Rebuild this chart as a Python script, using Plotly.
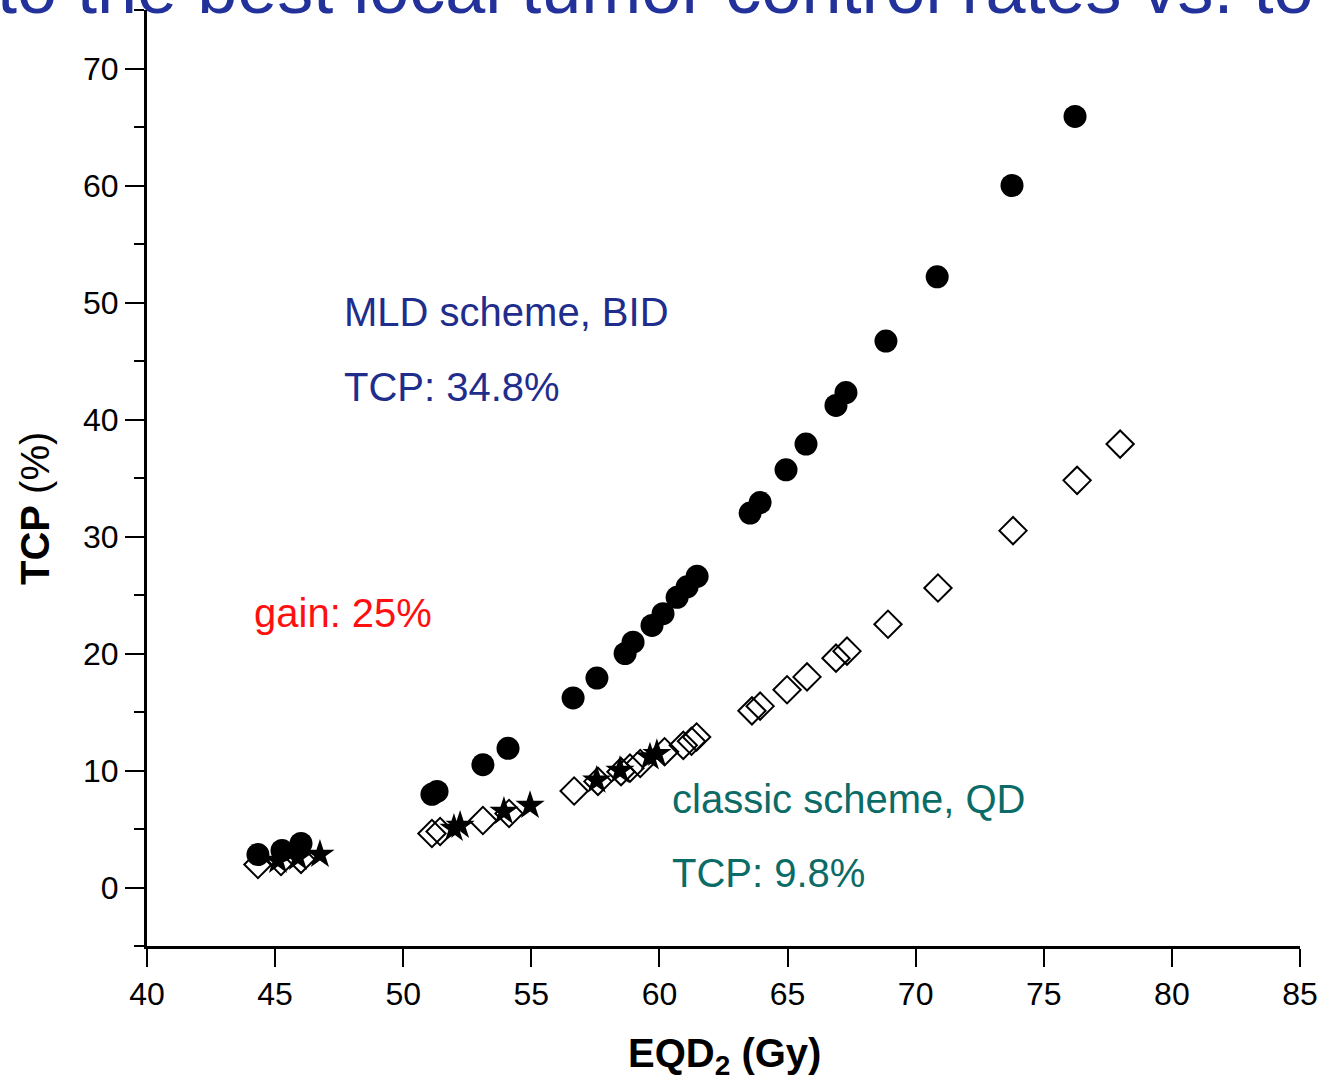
import plotly.graph_objects as go

# ---- data ----
mld_x = [44.33, 45.27, 46.01, 51.12, 51.32, 53.11, 54.09, 56.63, 57.56, 58.66, 58.97,
         59.71, 60.14, 60.69, 61.08, 61.47, 63.54, 63.93, 64.94, 65.72, 66.89, 67.28,
         68.84, 70.84, 73.76, 76.22]
mld_y = [2.82, 3.17, 3.77, 7.96, 8.21, 10.5, 11.9, 16.2, 17.9, 20.0, 20.97,
         22.4, 23.4, 24.8, 25.7, 26.6, 32.0, 32.9, 35.7, 37.9, 41.2, 42.3,
         46.7, 52.2, 60.0, 65.9]

classic_x = [44.33, 45.23, 46.01, 51.12, 51.44, 53.11, 54.13, 56.67, 57.60, 58.50,
             58.85, 59.25, 60.20, 60.93, 61.25, 61.45, 63.61, 63.93, 64.98, 65.76,
             66.89, 67.32, 68.92, 70.87, 73.80, 76.30, 77.98]
classic_y = [1.97, 2.22, 2.40, 4.62, 4.79, 5.73, 6.33, 8.25, 9.07, 9.90,
             10.2, 10.6, 11.6, 12.15, 12.5, 12.86, 15.1, 15.5, 16.9, 18.0,
             19.6, 20.2, 22.5, 25.6, 30.5, 34.8, 37.9]

star_x = [45.11, 45.89, 46.75, 51.98, 52.22, 53.93, 54.95, 57.55, 58.46, 59.63, 59.90]
star_y = [2.31, 2.57, 2.82, 5.05, 5.30, 6.50, 7.00, 9.16, 10.0, 11.15, 11.44]

x_ticks = [40, 45, 50, 55, 60, 65, 70, 75, 80, 85]
y_ticks = [0, 10, 20, 30, 40, 50, 60, 70]

header_text = "to the best local tumor control rates vs. to"
x_title = "<b>EQD<sub>2</sub> (Gy)</b>"
y_title = "<b>TCP</b> (%)"
labels = [
    ("MLD scheme, BID", 47.6, 49.2, "#1f2d8c"),
    ("TCP: 34.8%", 47.6, 42.8, "#1f2d8c"),
    ("gain: 25%", 44.1, 23.5, "#ff1010"),
    ("classic scheme, QD", 60.4, 7.6, "#0b6b66"),
    ("TCP: 9.8%", 60.4, 1.2, "#0b6b66"),
]

regular = "Liberation Sans, Arial, sans-serif"

fig = go.Figure()
fig.add_trace(go.Scatter(
    x=classic_x, y=classic_y, mode="markers", name="classic",
    marker=dict(symbol="diamond-open", size=21, color="black", line=dict(width=2, color="black")),
    cliponaxis=False))
fig.add_trace(go.Scatter(
    x=star_x, y=star_y, mode="markers", name="star",
    marker=dict(symbol="star", size=22, color="black", line=dict(width=0)),
    cliponaxis=False))
fig.add_trace(go.Scatter(
    x=mld_x, y=mld_y, mode="markers", name="MLD",
    marker=dict(symbol="circle", size=23, color="black", line=dict(width=0)),
    cliponaxis=False))

for txt, xx, yy, col in labels:
    fig.add_annotation(x=xx, y=yy, xref="x", yref="y", text=txt, showarrow=False,
                       xanchor="left", yanchor="middle",
                       font=dict(family=regular, size=40, color=col))

# header text cut by the top edge of the picture
fig.add_annotation(x=-0.132, y=1.0, xref="paper", yref="paper", xanchor="left", yanchor="bottom",
                   text=header_text, showarrow=False, yshift=-20,
                   font=dict(family=regular, size=72, color="#23329a"))

# axis titles
fig.add_annotation(x=-0.097, y=0.467, xref="paper", yref="paper", xanchor="center", yanchor="middle",
                   text=y_title, showarrow=False, textangle=-90,
                   font=dict(family=regular, size=40, color="black"))
fig.add_annotation(x=0.501, y=-0.1175, xref="paper", yref="paper", xanchor="center", yanchor="middle",
                   text=x_title, showarrow=False,
                   font=dict(family=regular, size=40, color="black"))

fig.update_layout(
    width=1323, height=1084,
    margin=dict(l=147, r=23, t=10, b=138),
    paper_bgcolor="white", plot_bgcolor="white",
    showlegend=False,
    xaxis=dict(range=[40, 85], tickvals=x_ticks, ticktext=[str(v) for v in x_ticks],
               automargin=False,
               showgrid=False, zeroline=False, showline=True, linecolor="black", linewidth=3,
               ticks="outside", ticklen=18, tickwidth=2, tickcolor="black",
               tickfont=dict(family=regular, size=32, color="black")),
    yaxis=dict(range=[-5, 75], tickvals=y_ticks, ticktext=[str(v) for v in y_ticks],
               automargin=False,
               showgrid=False, zeroline=False, showline=True, linecolor="black", linewidth=3,
               ticks="outside", ticklen=19, tickwidth=2, tickcolor="black",
               tickfont=dict(family=regular, size=32, color="black"),
               minor=dict(tickmode="linear", tick0=-5, dtick=10, ticks="outside",
                          ticklen=10, tickwidth=2, tickcolor="black", showgrid=False)),
)

fig.write_html("out.html")
